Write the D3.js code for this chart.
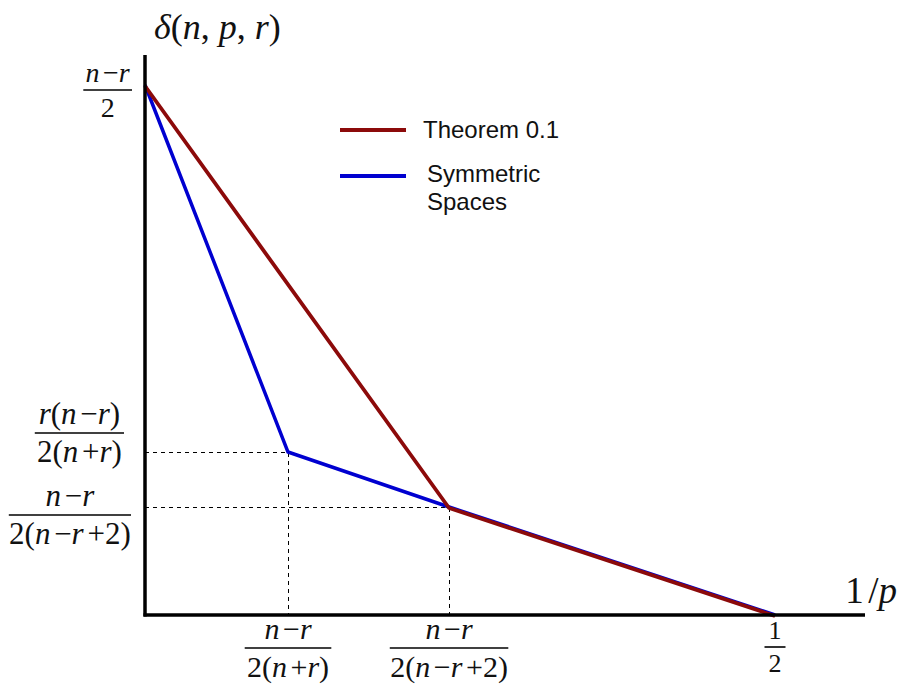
<!DOCTYPE html>
<html>
<head>
<meta charset="utf-8">
<script src="https://cdn.jsdelivr.net/npm/d3@7"></script>
<style>
  body { margin: 0; background: #fff; }
  svg { display: block; }
</style>
</head>
<body>
<svg id="chart" width="899" height="684"></svg>
<script>
// schematic values: x = 1/p, y in units of (n-r)/2
var theoremX = [0, 0.2413, 0.5];
var theoremY = [1, 0.2038, 0];
var symmetricX = [0, 0.1135, 0.2413, 0.5];
var symmetricY = [1, 0.3075, 0.2038, 0];

var xTickValues = [0.1135, 0.2413, 0.5];
var xTickNum = ["n−r", "n−r", "1"];
var xTickDen = ["2(n+r)", "2(n−r+2)", "2"];

var yTickValues = [1, 0.3075, 0.2038];
var yTickNum = ["n−r", "r(n−r)", "n−r"];
var yTickDen = ["2", "2(n+r)", "2(n−r+2)"];

var seriesNames = ["Theorem 0.1", "Symmetric Spaces"];

var svg = d3.select("#chart");
var serif = "'Liberation Serif', 'DejaVu Serif', serif";

var x = d3.scaleLinear().domain([0, 0.5]).range([145, 775]);
var y = d3.scaleLinear().domain([0, 1]).range([615, 85]);

// writes a math string: letters italic, operators spaced
function mathText(t, str) {
  str.split("").forEach(function(ch) {
    var ts = t.append("tspan").text(ch);
    if (/[a-zδ]/.test(ch)) ts.attr("font-style", "italic");
    if (ch === "−" || ch === "+" || ch === "/") {
      ts.attr("dx", "0.12em");
      t.append("tspan").attr("dx", "0.12em").text("");
    }
  });
  return t;
}

function fraction(g, num, den, size) {
  var tn = mathText(g.append("text")
      .attr("text-anchor", "middle")
      .attr("y", -0.3 * size)
      .attr("font-size", size), num);
  var td = mathText(g.append("text")
      .attr("text-anchor", "middle")
      .attr("y", 0.95 * size)
      .attr("font-size", size), den);
  var w = Math.max(tn.node().getComputedTextLength(), td.node().getComputedTextLength()) + 8;
  g.append("line")
      .attr("x1", -w / 2).attr("x2", w / 2)
      .attr("stroke", "#000").attr("stroke-width", 1.6);
  return w;
}

// dashed guides from the symmetric-space corners
var guides = svg.append("g")
    .attr("stroke", "#000")
    .attr("stroke-width", 1)
    .attr("stroke-dasharray", "4,4")
    .attr("shape-rendering", "crispEdges")
    .attr("fill", "none");

[1, 2].forEach(function(i) {
  var px = Math.round(x(symmetricX[i])) + 0.5,
      py = Math.round(y(symmetricY[i])) + 0.5;
  guides.append("line")
      .attr("x1", x(0)).attr("y1", py)
      .attr("x2", px).attr("y2", py);
  guides.append("line")
      .attr("x1", px).attr("y1", py)
      .attr("x2", px).attr("y2", y(0));
});

var line = d3.line()
    .x(function(d) { return x(d[0]); })
    .y(function(d) { return y(d[1]); });

svg.append("path")
    .datum(d3.zip(symmetricX, symmetricY))
    .attr("d", line)
    .attr("fill", "none")
    .attr("stroke", "#0000d0")
    .attr("stroke-width", 3.5)
    .attr("stroke-linejoin", "round");

svg.append("path")
    .datum(d3.zip(theoremX, theoremY))
    .attr("d", line)
    .attr("transform", "translate(0,1)")
    .attr("fill", "none")
    .attr("stroke", "#8c0a0a")
    .attr("stroke-width", 3.8)
    .attr("stroke-linejoin", "round");

// axes
svg.append("line")
    .attr("x1", x(0)).attr("y1", y(0) + 1.5)
    .attr("x2", x(0)).attr("y2", 55)
    .attr("stroke", "#000").attr("stroke-width", 3.5);
svg.append("line")
    .attr("x1", x(0) - 1.5).attr("y1", y(0))
    .attr("x2", 865).attr("y2", y(0))
    .attr("stroke", "#000").attr("stroke-width", 3.5);

// tick labels as fractions
var yLabelDy = [5, -19, 8];
var yLabelRight = [132, 124, 131];
var yLabelSize = [28, 31, 31];
yTickValues.forEach(function(v, i) {
  var g = svg.append("g").attr("font-family", serif).attr("fill", "#111");
  var w = fraction(g, yTickNum[i], yTickDen[i], yLabelSize[i]);
  g.attr("transform", "translate(" + (yLabelRight[i] - w / 2) + "," + (y(v) + yLabelDy[i]) + ")");
});

var xLabelDy = [33, 33, 32];
var xLabelSize = [30, 30, 26];
xTickValues.forEach(function(v, i) {
  var g = svg.append("g").attr("font-family", serif).attr("fill", "#111");
  fraction(g, xTickNum[i], xTickDen[i], xLabelSize[i]);
  g.attr("transform", "translate(" + x(v) + "," + (y(0) + xLabelDy[i]) + ")");
});

// axis titles
mathText(svg.append("text")
    .attr("x", 154).attr("y", 39)
    .attr("font-family", serif)
    .attr("font-size", 36)
    .attr("fill", "#111"), "δ(n, p, r)");

mathText(svg.append("text")
    .attr("x", 897).attr("y", 603)
    .attr("text-anchor", "end")
    .attr("font-family", serif)
    .attr("font-size", 37)
    .attr("fill", "#111"), "1/p");

// legend
var legend = svg.append("g")
    .attr("font-family", "'Liberation Sans', Arial, sans-serif")
    .attr("font-size", 24)
    .attr("fill", "#111");

legend.append("line")
    .attr("x1", 340).attr("x2", 406).attr("y1", 130).attr("y2", 130)
    .attr("stroke", "#8c0a0a").attr("stroke-width", 3.8);
legend.append("text").attr("x", 423).attr("y", 138).text(seriesNames[0]);

legend.append("line")
    .attr("x1", 340).attr("x2", 406).attr("y1", 176).attr("y2", 176)
    .attr("stroke", "#0000d0").attr("stroke-width", 3.8);
var sym = legend.append("text").attr("x", 427).attr("y", 182);
sym.append("tspan").text(seriesNames[1].split(" ")[0]);
sym.append("tspan").attr("x", 427).attr("dy", 28).text(seriesNames[1].split(" ")[1]);
</script>
</body>
</html>
